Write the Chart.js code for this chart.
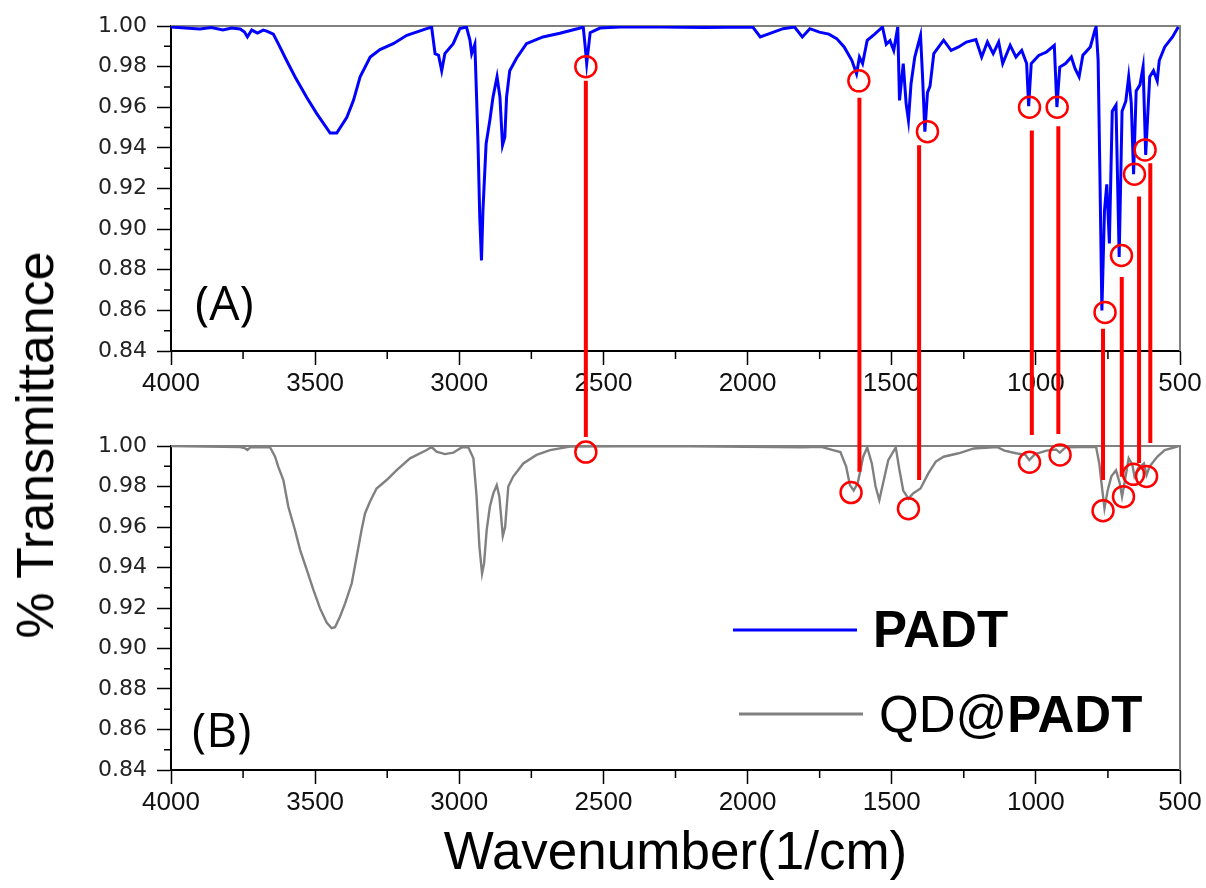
<!DOCTYPE html>
<html>
<head>
<meta charset="utf-8">
<script src="https://cdn.jsdelivr.net/npm/chart.js@4.4.1/dist/chart.umd.min.js"></script>
<style>
body { margin: 0; background: #fff; }
#wrap { position: relative; width: 1206px; height: 888px; }
#topChart { position: absolute; left: 0; top: 0; }
#bottomChart { position: absolute; left: 0; top: 420px; }
#ytitle {
	position: absolute; left: 35px; top: 445px;
	transform: translate(-50%, -50%) rotate(-90deg);
	font: 52px 'Liberation Sans', Arial, sans-serif; color: #000; white-space: nowrap;
}
</style>
</head>
<body>
<div id="wrap">
	<canvas id="topChart" width="1206" height="420"></canvas>
	<canvas id="bottomChart" width="1206" height="468"></canvas>
	<div id="ytitle">% Transmittance</div>
</div>
<script>
// PADT spectrum (panel A)
var padtWn = [4000, 3950, 3900, 3860, 3820, 3790, 3760, 3745, 3735, 3720, 3700, 3680, 3668, 3645, 3628, 3599, 3570, 3530, 3495, 3448,
	3425, 3390, 3367, 3344, 3309, 3275, 3229, 3182, 3113, 3096, 3084, 3072, 3061, 3050, 3021, 2998, 2975, 2963, 2957, 2946,
	2940, 2935, 2929, 2923, 2918, 2907, 2894, 2883, 2869, 2859, 2850, 2842, 2836, 2825, 2802, 2767, 2710, 2651, 2587, 2570,
	2564, 2558, 2546, 2512, 2443, 2300, 2150, 1982, 1956, 1929, 1877, 1837, 1810, 1784, 1751, 1718, 1691, 1665, 1638, 1622,
	1612, 1601, 1585, 1559, 1532, 1519, 1506, 1493, 1479, 1473, 1460, 1450, 1442, 1433, 1420, 1400, 1393, 1385, 1376, 1367,
	1354, 1320, 1294, 1268, 1241, 1208, 1188, 1168, 1148, 1129, 1115, 1089, 1069, 1049, 1032, 1025, 1016, 990, 963, 936,
	927, 917, 897, 877, 864, 850, 837, 811, 795, 791, 784, 778, 771, 762, 754, 745, 735, 722, 711, 701,
	688, 678, 669, 661, 652, 639, 628, 619, 605, 592, 579, 572, 553, 526, 506];
var padtT = [0.9995, 0.999, 0.9985, 0.9992, 0.998, 0.999, 0.9985, 0.997, 0.9946, 0.998, 0.9965, 0.998, 0.9975, 0.996, 0.9913, 0.983, 0.975, 0.965, 0.957, 0.9473,
	0.9473, 0.955, 0.9634, 0.975, 0.9847, 0.9884, 0.9913, 0.9954, 0.9987, 0.9995, 0.9864, 0.9856, 0.978, 0.9864, 0.9913, 0.9987, 0.9995, 0.993, 0.9864, 0.991,
	0.965, 0.942, 0.906, 0.8846, 0.909, 0.942, 0.9536, 0.965, 0.975, 0.965, 0.9413, 0.9453, 0.965, 0.978, 0.984, 0.9913, 0.9946, 0.9964, 0.9988, 0.9995,
	0.991, 0.9815, 0.9967, 0.999, 0.9995, 0.9995, 0.9993, 0.9995, 0.9946, 0.996, 0.9987, 0.9995, 0.9946, 0.9987, 0.997, 0.996, 0.9938, 0.9897, 0.983, 0.9765,
	0.9847, 0.9815, 0.993, 0.996, 0.9995, 0.991, 0.9928, 0.988, 0.9995, 0.9634, 0.9815, 0.9618, 0.9536, 0.9716, 0.9847, 0.9954, 0.975, 0.948, 0.9672, 0.9705,
	0.9864, 0.993, 0.988, 0.9897, 0.9921, 0.9933, 0.9847, 0.9921, 0.9864, 0.9921, 0.9815, 0.9905, 0.9847, 0.988, 0.9815, 0.9605, 0.9815, 0.9855, 0.9872, 0.9905,
	0.9601, 0.9798, 0.9815, 0.9847, 0.979, 0.975, 0.9856, 0.9897, 0.998, 0.9995, 0.9831, 0.929, 0.86, 0.909, 0.922, 0.893, 0.958, 0.961, 0.8863, 0.958,
	0.963, 0.975, 0.962, 0.927, 0.968, 0.971, 0.98, 0.9365, 0.975, 0.978, 0.973, 0.983, 0.9897, 0.9946, 0.9995];

// QD@PADT spectrum (panel B)
var qdWn = [4000, 3760, 3745, 3735, 3725, 3657, 3639, 3628, 3610, 3593, 3570, 3552, 3529, 3506, 3483, 3460, 3443, 3431, 3414, 3396,
	3373, 3356, 3339, 3327, 3310, 3287, 3252, 3217, 3171, 3113, 3096, 3079, 3050, 3021, 2992, 2969, 2951, 2940, 2930, 2921,
	2914, 2905, 2894, 2882, 2870, 2861, 2849, 2841, 2830, 2813, 2778, 2732, 2685, 2616, 2443, 2200, 1810, 1744, 1704, 1678,
	1658, 1645, 1632, 1618, 1599, 1585, 1569, 1556, 1543, 1530, 1512, 1486, 1473, 1460, 1442, 1426, 1400, 1373, 1347, 1320,
	1268, 1215, 1135, 1109, 1069, 1036, 1023, 1003, 963, 930, 917, 897, 844, 791, 780, 771, 762, 751, 738, 722,
	709, 701, 691, 678, 665, 658, 645, 625, 616, 605, 579, 553, 506];
var qdT = [1.0, 0.9995, 0.999, 0.998, 0.9993, 0.9995, 0.9947, 0.9898, 0.983, 0.97, 0.9585, 0.9486, 0.9388, 0.9289, 0.9198, 0.9128, 0.91, 0.9105, 0.9157, 0.9223,
	0.9322, 0.9453, 0.9585, 0.9667, 0.9725, 0.979, 0.9832, 0.9881, 0.9939, 0.998, 0.9995, 0.9972, 0.996, 0.9967, 0.9993, 0.9995, 0.9939, 0.975, 0.95, 0.937,
	0.942, 0.9585, 0.97, 0.9766, 0.9807, 0.975, 0.9556, 0.96, 0.98, 0.9849, 0.9914, 0.9956, 0.998, 0.9997, 0.9998, 0.9998, 0.9993, 0.9996, 0.998, 0.997,
	0.9898, 0.9807, 0.978, 0.9816, 0.9947, 0.9993, 0.9914, 0.98, 0.9733, 0.9816, 0.993, 0.9993, 0.988, 0.978, 0.974, 0.9766, 0.979, 0.9865, 0.9923, 0.9947,
	0.9964, 0.9988, 0.9995, 0.9977, 0.9964, 0.9956, 0.993, 0.996, 0.9977, 0.9983, 0.9967, 0.9993, 0.9995, 0.9995, 0.9914, 0.98, 0.9692, 0.978, 0.985, 0.988,
	0.9816, 0.975, 0.983, 0.9939, 0.9906, 0.985, 0.989, 0.9914, 0.9857, 0.99, 0.9947, 0.998, 0.9998];

// marked peaks
var topPeakWn = [2561, 1614, 1376, 1022, 926, 760, 703, 658, 621];
var topPeakT = [0.980, 0.973, 0.948, 0.960, 0.960, 0.859, 0.887, 0.927, 0.939];
var bottomPeakWn = [2561, 1641, 1442, 1022, 916, 767, 696, 661, 616];
var bottomPeakT = [0.997, 0.977, 0.969, 0.992, 0.9956, 0.968, 0.975, 0.986, 0.985];

// red connector lines: wavenumber, start in panel A, end in panel B
var linkWn = [2561, 1612, 1405, 1014, 922, 767, 702, 642, 603];
var linkTopT = [0.973, 0.9647, 0.9413, 0.9486, 0.9506, 0.851, 0.8764, 0.9161, 0.9324];
var linkBottomT = [1.0044, 0.9873, 0.9832, 1.0054, 1.0059, 0.9832, 0.9848, 0.9916, 1.0015];

var xTicks = [4000, 3500, 3000, 2500, 2000, 1500, 1000, 500];

Chart.defaults.font.family = "'Liberation Sans', Arial, sans-serif";
Chart.defaults.color = '#111';

function pts(xs, ys) {
	return xs.map(function(x, i) { return {x: x, y: ys[i]}; });
}

function isMajorY(v) { return Math.round(v * 100) % 2 === 0; }
function isMajorX(v) { return xTicks.indexOf(Math.round(v)) >= 0; }

function makeScales(xHeight, withTitle) {
	return {
		x: {
			type: 'linear', reverse: true, min: 500, max: 4000,
			ticks: {
				stepSize: 250, autoSkip: false, maxRotation: 0, padding: 3, color: '#111',
				font: {family: "'Liberation Sans', Arial", size: 26},
				callback: function(v) { return isMajorX(v) ? String(v) : ''; }
			},
			grid: {
				drawOnChartArea: false, tickLength: 14, tickWidth: 1.5,
				tickColor: function(c) { return c.tick && isMajorX(c.tick.value) ? '#000' : 'rgba(0,0,0,0)'; }
			},
			border: {color: '#000', width: 2},
			title: {display: withTitle, text: 'Wavenumber(1/cm)', color: '#000', font: {size: 53}, padding: {top: 0, bottom: 2}},
			afterFit: function(s) { s.height = xHeight; }
		},
		y: {
			min: 0.84, max: 1.0,
			ticks: {
				stepSize: 0.01, autoSkip: false, padding: 10, color: '#222',
				font: {family: "'DejaVu Sans', sans-serif", size: 22},
				callback: function(v) { return isMajorY(v) ? v.toFixed(2) : ''; }
			},
			grid: {
				drawOnChartArea: false, tickLength: 14, tickWidth: 1.5,
				tickColor: function(c) { return c.tick && isMajorY(c.tick.value) ? '#000' : 'rgba(0,0,0,0)'; }
			},
			border: {color: '#000', width: 2},
			afterFit: function(s) { s.width = 171; }
		}
	};
}

// gray box on top and right, short minor ticks
var frame = {
	id: 'frame',
	beforeDatasetsDraw: function(chart) {
		var a = chart.chartArea, ctx = chart.ctx;
		ctx.save();
		ctx.strokeStyle = '#808080';
		ctx.lineWidth = 2;
		ctx.beginPath();
		ctx.moveTo(a.left, a.top);
		ctx.lineTo(a.right, a.top);
		ctx.lineTo(a.right, a.bottom);
		ctx.stroke();
		ctx.restore();
	},
	afterDraw: function(chart) {
		var ctx = chart.ctx, xs = chart.scales.x, ys = chart.scales.y;
		ctx.save();
		ctx.strokeStyle = '#000';
		ctx.lineWidth = 1.5;
		ctx.beginPath();
		xs.ticks.forEach(function(t, i) {
			if (!isMajorX(t.value)) {
				var x = xs.getPixelForTick(i);
				ctx.moveTo(x, xs.top); ctx.lineTo(x, xs.top + 8);
			}
		});
		ys.ticks.forEach(function(t, i) {
			if (!isMajorY(t.value)) {
				var y = ys.getPixelForTick(i);
				ctx.moveTo(ys.right - 7, y); ctx.lineTo(ys.right, y);
			}
		});
		ctx.stroke();
		ctx.restore();
	}
};

function panelLabel(text, dx, dy) {
	return {
		id: 'panelLabel',
		afterDraw: function(chart) {
			var a = chart.chartArea, ctx = chart.ctx;
			ctx.save();
			ctx.fillStyle = '#000';
			ctx.font = "48px 'Open Sans', sans-serif";
			ctx.textBaseline = 'alphabetic';
			ctx.fillText(text, a.left + dx, a.bottom - dy);
			ctx.restore();
		}
	};
}

function links(isTop) {
	return {
		id: 'links',
		afterDraw: function(chart) {
			var ctx = chart.ctx, xs = chart.scales.x, ys = chart.scales.y;
			ctx.save();
			ctx.strokeStyle = '#ff0000';
			ctx.lineWidth = 4;
			ctx.beginPath();
			linkWn.forEach(function(w, i) {
				var x = xs.getPixelForValue(w);
				if (isTop) {
					ctx.moveTo(x, ys.getPixelForValue(linkTopT[i]));
					ctx.lineTo(x, chart.height);
				} else {
					ctx.moveTo(x, 0);
					ctx.lineTo(x, ys.getPixelForValue(linkBottomT[i]));
				}
			});
			ctx.stroke();
			ctx.restore();
		}
	};
}

var legendBox = {
	id: 'legendBox',
	afterDraw: function(chart) {
		var a = chart.chartArea, ctx = chart.ctx;
		ctx.save();
		ctx.lineWidth = 3;
		ctx.strokeStyle = '#0000ff';
		ctx.beginPath(); ctx.moveTo(a.left + 562, a.top + 184); ctx.lineTo(a.left + 686, a.top + 184); ctx.stroke();
		ctx.strokeStyle = '#808080';
		ctx.beginPath(); ctx.moveTo(a.left + 568, a.top + 268); ctx.lineTo(a.left + 692, a.top + 268); ctx.stroke();
		ctx.fillStyle = '#000';
		ctx.textBaseline = 'alphabetic';
		ctx.font = "bold 51px 'Liberation Sans', Arial";
		ctx.fillText('PADT', a.left + 702, a.top + 201);
		ctx.font = "51px 'Liberation Sans', Arial";
		ctx.fillText('QD@', a.left + 708, a.top + 286);
		var w = ctx.measureText('QD@').width;
		ctx.font = "bold 51px 'Liberation Sans', Arial";
		ctx.fillText('PADT', a.left + 708 + w, a.top + 286);
		ctx.restore();
	}
};

var commonOpts = function(xHeight, withTitle) {
	return {
		responsive: false,
		animation: false,
		layout: {padding: {left: 0, top: 26, right: 26, bottom: 0}},
		plugins: {legend: {display: false}, tooltip: {enabled: false}},
		scales: makeScales(xHeight, withTitle)
	};
};

var markerStyle = {
	type: 'scatter', pointStyle: 'circle', pointRadius: 10.5, pointBorderWidth: 2.5,
	pointBorderColor: '#ff0000', pointBackgroundColor: 'rgba(0,0,0,0)', clip: false
};

new Chart(document.getElementById('topChart'), {
	type: 'line',
	data: {
		datasets: [
			Object.assign({label: 'peaks A', data: pts(topPeakWn, topPeakT)}, markerStyle),
			{label: 'PADT', data: pts(padtWn, padtT), borderColor: '#0000ff', borderWidth: 3, pointRadius: 0, tension: 0}
		]
	},
	options: commonOpts(69, false),
	plugins: [frame, panelLabel('(A)', 24, 31), links(true)]
});

new Chart(document.getElementById('bottomChart'), {
	type: 'line',
	data: {
		datasets: [
			Object.assign({label: 'peaks B', data: pts(bottomPeakWn, bottomPeakT)}, markerStyle),
			{label: 'QD@PADT', data: pts(qdWn, qdT), borderColor: '#808080', borderWidth: 2.4, pointRadius: 0, tension: 0}
		]
	},
	options: commonOpts(118, true),
	plugins: [frame, panelLabel('(B)', 21, 23), links(false), legendBox]
});
</script>
</body>
</html>
